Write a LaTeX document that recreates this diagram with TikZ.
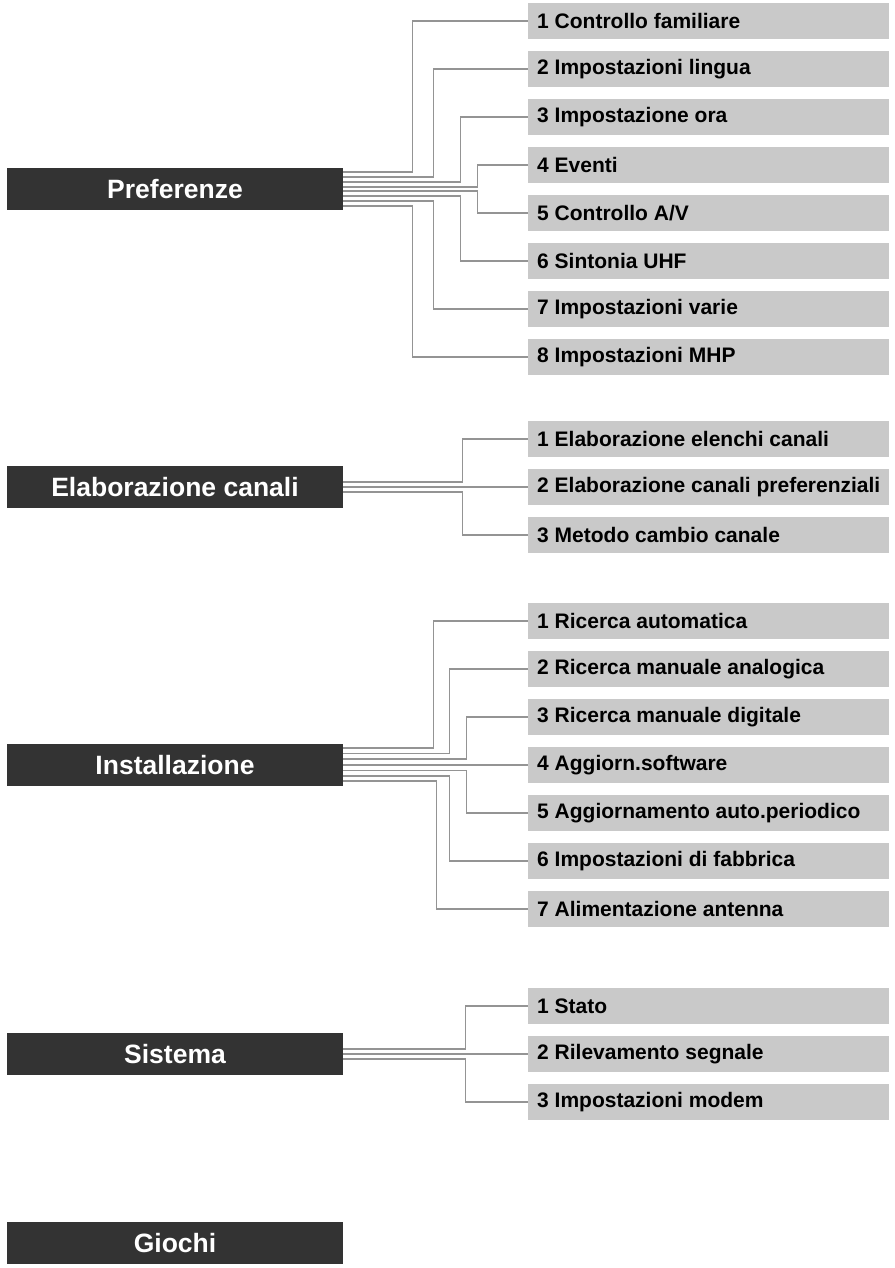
\documentclass[tikz,border=0pt]{standalone}
\usepackage{fontspec}
\setmainfont{Liberation Sans}
\newcommand\subtxt[1]{\makebox[343pt][l]{#1}}
\begin{document}
\begin{tikzpicture}[x=1pt,y=-1pt,
  mainbox/.style={fill=black!80,text=white,font=\fontsize{26.5}{28}\selectfont\bfseries,minimum width=336pt,minimum height=42pt,inner sep=0pt},
  subbox/.style={fill=black!21,text=black,font=\fontsize{21}{23}\selectfont\bfseries,anchor=west,inner xsep=9pt,inner ysep=0pt,minimum height=36pt},
  link/.style={draw=black!42,line width=1.4pt}]
\useasboundingbox (0,0) rectangle (894,1268);
% Preferenze
\node[mainbox] (pref) at (175,189) {Preferenze};
\node[subbox] (p1) at (528,21) {\subtxt{1 Controllo familiare}};
\node[subbox] (p2) at (528,69) {\subtxt{2 Impostazioni lingua}};
\node[subbox] (p3) at (528,117) {\subtxt{3 Impostazione ora}};
\node[subbox] (p4) at (528,165) {\subtxt{4 Eventi}};
\node[subbox] (p5) at (528,213) {\subtxt{5 Controllo A/V}};
\node[subbox] (p6) at (528,261) {\subtxt{6 Sintonia UHF}};
\node[subbox] (p7) at (528,309) {\subtxt{7 Impostazioni varie}};
\node[subbox] (p8) at (528,357) {\subtxt{8 Impostazioni MHP}};
\draw[link] ([yshift=17pt]pref.east) -- ++(69,0) |- (p1.west);
\draw[link] ([yshift=12pt]pref.east) -- ++(90,0) |- (p2.west);
\draw[link] ([yshift=7pt]pref.east) -- ++(117,0) |- (p3.west);
\draw[link] ([yshift=2pt]pref.east) -- ++(134,0) |- (p4.west);
\draw[link] ([yshift=-2pt]pref.east) -- ++(134,0) |- (p5.west);
\draw[link] ([yshift=-7pt]pref.east) -- ++(117,0) |- (p6.west);
\draw[link] ([yshift=-12pt]pref.east) -- ++(90,0) |- (p7.west);
\draw[link] ([yshift=-17pt]pref.east) -- ++(69,0) |- (p8.west);
% Elaborazione canali
\node[mainbox] (elab) at (175,487) {Elaborazione canali};
\node[subbox] (e1) at (528,439) {\subtxt{1 Elaborazione elenchi canali}};
\node[subbox] (e2) at (528,487) {\subtxt{2 Elaborazione canali preferenziali}};
\node[subbox] (e3) at (528,535) {\subtxt{3 Metodo cambio canale}};
\draw[link] ([yshift=5pt]elab.east) -- ++(119,0) |- (e1.west);
\draw[link] (elab.east) -- (e2.west);
\draw[link] ([yshift=-5pt]elab.east) -- ++(119,0) |- (e3.west);
% Installazione
\node[mainbox] (inst) at (175,765) {Installazione};
\node[subbox] (i1) at (528,621) {\subtxt{1 Ricerca automatica}};
\node[subbox] (i2) at (528,669) {\subtxt{2 Ricerca manuale analogica}};
\node[subbox] (i3) at (528,717) {\subtxt{3 Ricerca manuale digitale}};
\node[subbox] (i4) at (528,765) {\subtxt{4 Aggiorn.software}};
\node[subbox] (i5) at (528,813) {\subtxt{5 Aggiornamento auto.periodico}};
\node[subbox] (i6) at (528,861) {\subtxt{6 Impostazioni di fabbrica}};
\node[subbox] (i7) at (528,909) {\subtxt{7 Alimentazione antenna}};
\draw[link] ([yshift=17pt]inst.east) -- ++(90,0) |- (i1.west);
\draw[link] ([yshift=11.5pt]inst.east) -- ++(106,0) |- (i2.west);
\draw[link] ([yshift=6pt]inst.east) -- ++(123,0) |- (i3.west);
\draw[link] (inst.east) -- (i4.west);
\draw[link] ([yshift=-5.5pt]inst.east) -- ++(123,0) |- (i5.west);
\draw[link] ([yshift=-11pt]inst.east) -- ++(106,0) |- (i6.west);
\draw[link] ([yshift=-16pt]inst.east) -- ++(93,0) |- (i7.west);
% Sistema
\node[mainbox] (sist) at (175,1054) {Sistema};
\node[subbox] (s1) at (528,1006) {\subtxt{1 Stato}};
\node[subbox] (s2) at (528,1054) {\subtxt{2 Rilevamento segnale}};
\node[subbox] (s3) at (528,1102) {\subtxt{3 Impostazioni modem}};
\draw[link] ([yshift=5pt]sist.east) -- ++(122,0) |- (s1.west);
\draw[link] (sist.east) -- (s2.west);
\draw[link] ([yshift=-5pt]sist.east) -- ++(122,0) |- (s3.west);
% Giochi
\node[mainbox] (gioc) at (175,1243) {Giochi};
\end{tikzpicture}
\end{document}
